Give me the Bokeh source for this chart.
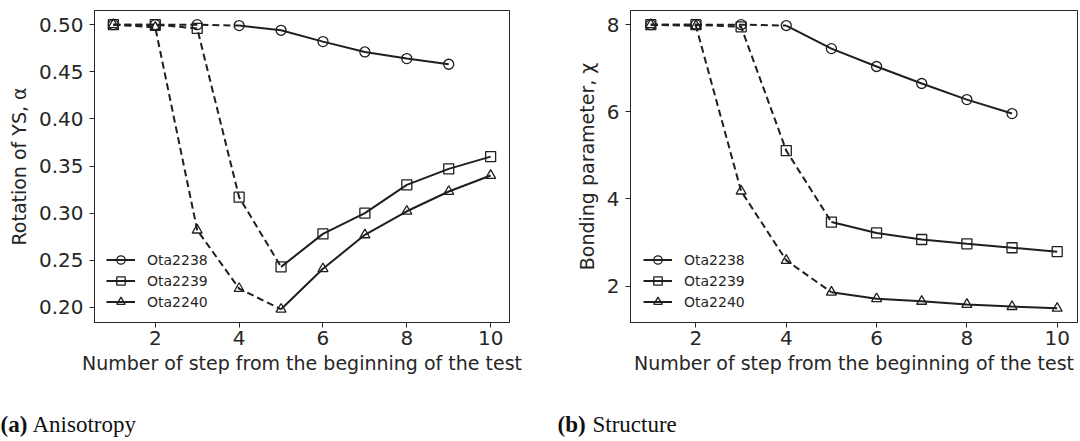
from bokeh.plotting import figure
from bokeh.layouts import row, column
from bokeh.models import Range1d, FixedTicker, PrintfTickFormatter, Legend, LegendItem
from bokeh.core.properties import value
from bokeh.embed import file_html
from bokeh.resources import INLINE

# ---------------- data ----------------
steps = [1, 2, 3, 4, 5, 6, 7, 8, 9, 10]
series_names = ["Ota2238", "Ota2239", "Ota2240"]
series_markers = ["circle", "square", "triangle"]
solid_from_step = [4, 5, 5]          # step where the solid part of each curve starts

alpha_2238 = [0.500, 0.500, 0.500, 0.499, 0.494, 0.482, 0.471, 0.464, 0.458]
alpha_2239 = [0.500, 0.500, 0.496, 0.317, 0.243, 0.278, 0.300, 0.330, 0.347, 0.360]
alpha_2240 = [0.500, 0.497, 0.282, 0.220, 0.198, 0.241, 0.277, 0.302, 0.323, 0.340]

chi_2238 = [8.00, 8.00, 8.00, 7.98, 7.45, 7.04, 6.65, 6.28, 5.96]
chi_2239 = [8.00, 8.00, 7.95, 5.11, 3.47, 3.22, 3.07, 2.97, 2.88, 2.79]
chi_2240 = [8.00, 7.97, 4.18, 2.59, 1.86, 1.71, 1.65, 1.58, 1.53, 1.49]

x_ticks = [2, 4, 6, 8, 10]
alpha_ticks = [0.20, 0.25, 0.30, 0.35, 0.40, 0.45, 0.50]
chi_ticks = [2, 4, 6, 8]

x_label = "Number of step from the beginning of the test"
alpha_label = "Rotation of YS, α"
chi_label = "Bonding parameter, χ"
captions = [("(a)", "Anisotropy"), ("(b)", "Structure")]

INK = "#1f1f1f"
TXT = "#262626"
FONT = "DejaVu Sans"
MAIN_H = 390
CAP_H = 51


def panel(values, ylabel, yrange, yticks, yfmt, border_left, frame_w, border_right, legend_x):
    p = figure(output_backend="svg", toolbar_location=None,
               frame_width=frame_w, frame_height=312,
               width=border_left + frame_w + border_right, height=MAIN_H,
               min_border_left=border_left, min_border_right=border_right,
               min_border_top=10, min_border_bottom=MAIN_H - 322,
               x_range=Range1d(0.55, 10.45), y_range=Range1d(*yrange))
    p.title.visible = False
    p.grid.visible = False
    p.outline_line_color = TXT
    p.outline_line_width = 1
    p.background_fill_color = "white"
    p.border_fill_color = "white"

    for ax in (p.xaxis[0], p.yaxis[0]):
        ax.axis_line_color = TXT
        ax.major_tick_line_color = TXT
        ax.major_tick_out = 5
        ax.major_tick_in = 0
        ax.minor_tick_out = 0
        ax.minor_tick_in = 0
        ax.major_label_text_font = FONT
        ax.major_label_text_font_size = "20px"
        ax.major_label_text_color = TXT
        ax.axis_label_text_font = FONT
        ax.axis_label_text_font_size = "19px"
        ax.axis_label_text_font_style = "normal"
        ax.axis_label_text_color = TXT

    p.xaxis.ticker = FixedTicker(ticks=x_ticks)
    p.xaxis.axis_label = x_label
    p.xaxis.major_label_standoff = 3
    p.xaxis.axis_label_standoff = 4
    p.yaxis.ticker = FixedTicker(ticks=yticks)
    p.yaxis.formatter = PrintfTickFormatter(format=yfmt)
    p.yaxis.axis_label = ylabel
    p.yaxis.major_label_standoff = 6
    p.yaxis.axis_label_standoff = 6

    items = []
    for name, marker, start, vals in zip(series_names, series_markers, solid_from_step, values):
        xs = steps[:len(vals)]
        k = xs.index(start)
        p.line(xs[:k + 1], vals[:k + 1], line_color=INK, line_width=2, line_dash="7 4")
        solid = p.line(xs[k:], vals[k:], line_color=INK, line_width=2)
        pts = p.scatter(xs, vals, marker=marker, size=10, line_color=INK, line_width=1.3,
                        fill_color="white", fill_alpha=0)
        items.append(LegendItem(label=name, renderers=[solid, pts]))

    legend = Legend(items=items, location=(legend_x, 10), padding=0, spacing=0, margin=0,
                    label_text_font=FONT, label_text_font_size="14px", label_text_color=TXT,
                    glyph_width=29, glyph_height=21, label_height=21, label_standoff=12,
                    border_line_alpha=0, background_fill_alpha=0)
    p.add_layout(legend)
    return p


def caption_fig(width, tag, text, tag_x, text_x):
    c = figure(output_backend="svg", toolbar_location=None, width=width, height=CAP_H,
               x_range=Range1d(0, width), y_range=Range1d(0, CAP_H),
               min_border=0, x_axis_location=None, y_axis_location=None)
    c.title.visible = False
    c.grid.visible = False
    c.outline_line_color = None
    c.text(x=[tag_x], y=[CAP_H - 21], text=[tag], text_font=value("Liberation Serif"),
           text_font_size="23px", text_font_style="bold", text_color="#111111",
           text_baseline="top", text_align="left")
    c.text(x=[text_x], y=[CAP_H - 21], text=[text], text_font=value("Liberation Serif"),
           text_font_size="23px", text_color="#111111",
           text_baseline="top", text_align="left")
    return c


pa = panel([alpha_2238, alpha_2239, alpha_2240], alpha_label, (0.184, 0.515), alpha_ticks, "%.2f",
           94, 415, 39, 12)
pb = panel([chi_2238, chi_2239, chi_2240], chi_label, (1.165, 8.325), chi_ticks, "%d",
           82, 447, 3, 13)

ca = caption_fig(548, captions[0][0], captions[0][1], 0, 32)
cb = caption_fig(532, captions[1][0], captions[1][1], 9, 44)

layout = column(row(pa, pb), row(ca, cb))
open("out.html", "w").write(file_html(layout, INLINE))
